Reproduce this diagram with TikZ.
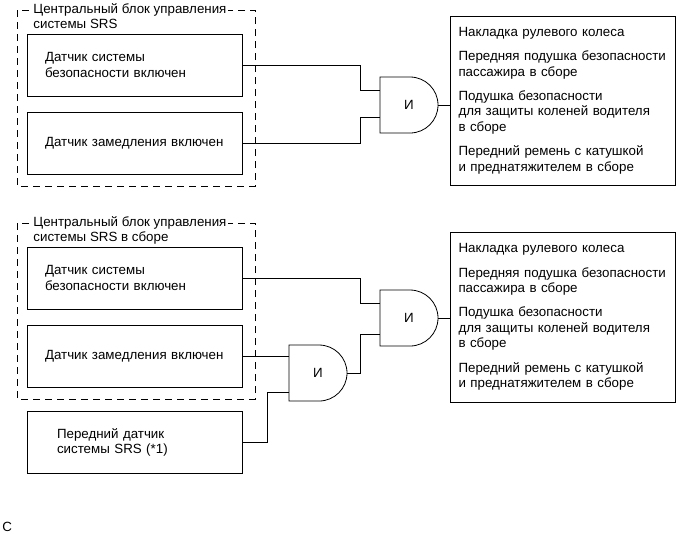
\documentclass[tikz,border=0pt]{standalone}
\usepackage{fontspec}
\setmainfont{Liberation Sans}
\begin{document}
\begin{tikzpicture}[x=0.75pt,y=-0.75pt,line width=0.6pt,
  every node/.style={font=\fontsize{10}{11.6}\selectfont},
  sensor/.style={draw,minimum width=161.25pt,minimum height=46.5pt,
    inner xsep=13.5pt,text width=134.25pt,align=left},
  loadbox/.style={draw,minimum width=168.75pt,inner xsep=6.375pt,
    text width=156pt,align=left},
  unitframe/.style={dash pattern=on 5.25pt off 3.75pt},
  unittitle/.style={anchor=north west,fill=white,inner sep=1.5pt,align=left}]
  \useasboundingbox (0,0) rectangle (677,537);

  % Junction columns
  \coordinate (jx) at (360,0);
  \coordinate (jy) at (267,0);

  % Upper unit
  \draw[unitframe] (17,10) rectangle (255,186);
  \node[unittitle] (t1) at (31,1) {Центральный блок управления\\системы SRS};
  \node[sensor] (s1) at (134.5,65) {Датчик системы\\безопасности включен};
  \node[sensor] (s2) at (134.5,143) {Датчик замедления включен};

  % Lower unit
  \draw[unitframe] (17,223) rectangle (255,399);
  \node[unittitle] (t2) at (31,214) {Центральный блок управления\\системы SRS в сборе};
  \node[sensor] (s3) at (134.5,278) {Датчик системы\\безопасности включен};
  \node[sensor] (s4) at (134.5,356) {Датчик замедления включен};
  \node[sensor,inner xsep=22.5pt,text width=116.25pt] (s5) at (134.5,442.5)
    {Передний датчик\\системы SRS (*1)};

  % AND gates
  \foreach \g/\gx/\gy in {gA/380/105, gB/380/318, gC/289/373} {
    \draw (\gx,\gy-28) -- ++(30,0) arc[start angle=-90,end angle=90,radius=28]
      -- ++(-30,0) -- cycle;
    \node (\g) at (\gx+29,\gy) {И};
  }
  \coordinate (gAin1) at (380,90);
  \coordinate (gAin2) at (380,117);
  \coordinate (gAout) at (438,105);
  \coordinate (gBin1) at (380,303);
  \coordinate (gBin2) at (380,334);
  \coordinate (gBout) at (438,318);
  \coordinate (gCin1) at (289,356);
  \coordinate (gCin2) at (289,392);
  \coordinate (gCout) at (347,373);

  % Deployed parts
  \node[loadbox,minimum height=126.75pt] (out1) at (562.5,100.5)
    {Накладка рулевого колеса\\[6.75pt]
     Передняя подушка безопасности\\пассажира в сборе\\[6.75pt]
     Подушка безопасности\\для защиты коленей водителя\\в сборе\\[6.75pt]
     Передний ремень с катушкой\\и преднатяжителем в сборе};
  \node[loadbox,minimum height=127.5pt] (out2) at (562.5,317)
    {Накладка рулевого колеса\\[6.75pt]
     Передняя подушка безопасности\\пассажира в сборе\\[6.75pt]
     Подушка безопасности\\для защиты коленей водителя\\в сборе\\[6.75pt]
     Передний ремень с катушкой\\и преднатяжителем в сборе};

  % Wires, upper
  \draw (s1.east) -| (jx |- gAin1) -- (gAin1);
  \draw (s2.east) -| (jx |- gAin2) -- (gAin2);
  \draw (gAout) -- (gAout -| out1.west);

  % Wires, lower
  \draw (s3.east) -| (jx |- gBin1) -- (gBin1);
  \draw (gCout) -| (jx |- gBin2) -- (gBin2);
  \draw (s4.east) -- (gCin1);
  \draw (s5.east) -| (jy |- gCin2) -- (gCin2);
  \draw (gBout) -- (gBout -| out2.west);

  % Figure mark
  \node[anchor=west,inner sep=0pt] (mark) at (2,527) {C};
\end{tikzpicture}
\end{document}
